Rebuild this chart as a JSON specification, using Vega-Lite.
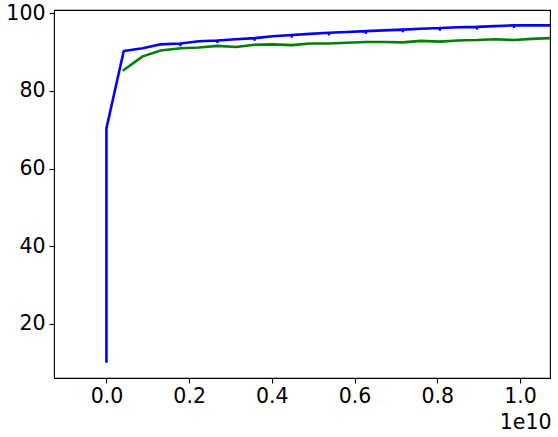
{
  "$schema": "https://vega.github.io/schema/vega-lite/v6.json",
  "width": 496,
  "height": 368,
  "autosize": {"type": "none"},
  "padding": {"left": 54, "top": 10, "right": 8, "bottom": 59},
  "background": "white",
  "config": {
    "view": {"stroke": "black", "strokeWidth": 1.1},
    "font": "DejaVu Sans",
    "axis": {
      "grid": false,
      "domain": false,
      "ticks": true,
      "tickColor": "black",
      "tickWidth": 1.1,
      "tickSize": 5,
      "labelFont": "DejaVu Sans",
      "labelFontSize": 20.5,
      "labelColor": "black",
      "titleFont": "DejaVu Sans",
      "titleFontSize": 20.5,
      "titleFontWeight": "normal",
      "titleColor": "black"
    }
  },
  "data": {
    "values": [
      {"s": "blue", "i": 0, "x": 0.0, "y": 10.3},
      {"s": "blue", "i": 1, "x": 0.0, "y": 70.4},
      {"s": "blue", "i": 2, "x": 0.0419, "y": 90.3},
      {"s": "blue", "i": 3, "x": 0.0878, "y": 91.0},
      {"s": "blue", "i": 4, "x": 0.1314, "y": 92.0},
      {"s": "blue", "i": 5, "x": 0.179, "y": 92.2},
      {"s": "blue", "i": 6, "x": 0.179, "y": 91.8},
      {"s": "blue", "i": 7, "x": 0.179, "y": 92.2},
      {"s": "blue", "i": 8, "x": 0.2233, "y": 92.8},
      {"s": "blue", "i": 9, "x": 0.2686, "y": 93.0},
      {"s": "blue", "i": 10, "x": 0.2686, "y": 92.6},
      {"s": "blue", "i": 11, "x": 0.2686, "y": 93.0},
      {"s": "blue", "i": 12, "x": 0.3129, "y": 93.3},
      {"s": "blue", "i": 13, "x": 0.3583, "y": 93.6},
      {"s": "blue", "i": 14, "x": 0.3583, "y": 93.2},
      {"s": "blue", "i": 15, "x": 0.3583, "y": 93.6},
      {"s": "blue", "i": 16, "x": 0.4024, "y": 94.1},
      {"s": "blue", "i": 17, "x": 0.4481, "y": 94.4},
      {"s": "blue", "i": 18, "x": 0.4481, "y": 94.0},
      {"s": "blue", "i": 19, "x": 0.4481, "y": 94.4},
      {"s": "blue", "i": 20, "x": 0.4919, "y": 94.7},
      {"s": "blue", "i": 21, "x": 0.5379, "y": 95.0},
      {"s": "blue", "i": 22, "x": 0.5379, "y": 94.6},
      {"s": "blue", "i": 23, "x": 0.5379, "y": 95.0},
      {"s": "blue", "i": 24, "x": 0.5814, "y": 95.2},
      {"s": "blue", "i": 25, "x": 0.6274, "y": 95.4},
      {"s": "blue", "i": 26, "x": 0.6274, "y": 95.0},
      {"s": "blue", "i": 27, "x": 0.6274, "y": 95.4},
      {"s": "blue", "i": 28, "x": 0.6709, "y": 95.6},
      {"s": "blue", "i": 29, "x": 0.7169, "y": 95.8},
      {"s": "blue", "i": 30, "x": 0.7169, "y": 95.4},
      {"s": "blue", "i": 31, "x": 0.7169, "y": 95.8},
      {"s": "blue", "i": 32, "x": 0.7605, "y": 96.0},
      {"s": "blue", "i": 33, "x": 0.8065, "y": 96.2},
      {"s": "blue", "i": 34, "x": 0.8065, "y": 95.8},
      {"s": "blue", "i": 35, "x": 0.8065, "y": 96.2},
      {"s": "blue", "i": 36, "x": 0.85, "y": 96.4},
      {"s": "blue", "i": 37, "x": 0.896, "y": 96.5},
      {"s": "blue", "i": 38, "x": 0.896, "y": 96.1},
      {"s": "blue", "i": 39, "x": 0.896, "y": 96.5},
      {"s": "blue", "i": 40, "x": 0.9395, "y": 96.7},
      {"s": "blue", "i": 41, "x": 0.9855, "y": 96.9},
      {"s": "blue", "i": 42, "x": 0.9855, "y": 96.5},
      {"s": "blue", "i": 43, "x": 0.9855, "y": 96.9},
      {"s": "blue", "i": 44, "x": 1.029, "y": 96.9},
      {"s": "blue", "i": 45, "x": 1.075, "y": 96.9},
      {"s": "green", "i": 0, "x": 0.0419, "y": 85.4},
      {"s": "green", "i": 1, "x": 0.0878, "y": 88.9},
      {"s": "green", "i": 2, "x": 0.1314, "y": 90.4},
      {"s": "green", "i": 3, "x": 0.179, "y": 91.0},
      {"s": "green", "i": 4, "x": 0.2233, "y": 91.2},
      {"s": "green", "i": 5, "x": 0.2686, "y": 91.6},
      {"s": "green", "i": 6, "x": 0.3129, "y": 91.3},
      {"s": "green", "i": 7, "x": 0.3583, "y": 91.9},
      {"s": "green", "i": 8, "x": 0.4024, "y": 92.0},
      {"s": "green", "i": 9, "x": 0.4481, "y": 91.8},
      {"s": "green", "i": 10, "x": 0.4919, "y": 92.2},
      {"s": "green", "i": 11, "x": 0.5379, "y": 92.2},
      {"s": "green", "i": 12, "x": 0.5814, "y": 92.4},
      {"s": "green", "i": 13, "x": 0.6274, "y": 92.6},
      {"s": "green", "i": 14, "x": 0.6709, "y": 92.6},
      {"s": "green", "i": 15, "x": 0.7169, "y": 92.5},
      {"s": "green", "i": 16, "x": 0.7605, "y": 92.9},
      {"s": "green", "i": 17, "x": 0.8065, "y": 92.7},
      {"s": "green", "i": 18, "x": 0.85, "y": 93.0},
      {"s": "green", "i": 19, "x": 0.896, "y": 93.1},
      {"s": "green", "i": 20, "x": 0.9395, "y": 93.3},
      {"s": "green", "i": 21, "x": 0.9855, "y": 93.1},
      {"s": "green", "i": 22, "x": 1.029, "y": 93.4},
      {"s": "green", "i": 23, "x": 1.075, "y": 93.6}
    ]
  },
  "mark": {"type": "line", "strokeWidth": 2.6, "clip": true, "strokeJoin": "round", "strokeCap": "square"},
  "encoding": {
    "x": {
      "field": "x",
      "type": "quantitative",
      "scale": {"domain": [-0.1268, 1.0726], "nice": false, "zero": false},
      "axis": {
        "values": [0, 0.2, 0.4, 0.6, 0.8, 1.0],
        "format": ".1f",
        "labelPadding": 3,
        "title": "1e10",
        "titleAnchor": "end",
        "titleAlign": "right",
        "titleBaseline": "alphabetic",
        "titleX": 497,
        "titleY": 50
      }
    },
    "y": {
      "field": "y",
      "type": "quantitative",
      "scale": {"domain": [6.02, 100.85], "nice": false, "zero": false},
      "axis": {
        "values": [20, 40, 60, 80, 100],
        "labelPadding": 4,
        "title": null
      }
    },
    "color": {
      "field": "s",
      "type": "nominal",
      "scale": {"domain": ["blue", "green"], "range": ["#0000ff", "#008000"]},
      "legend": null
    },
    "order": {"field": "i", "type": "quantitative"}
  }
}
